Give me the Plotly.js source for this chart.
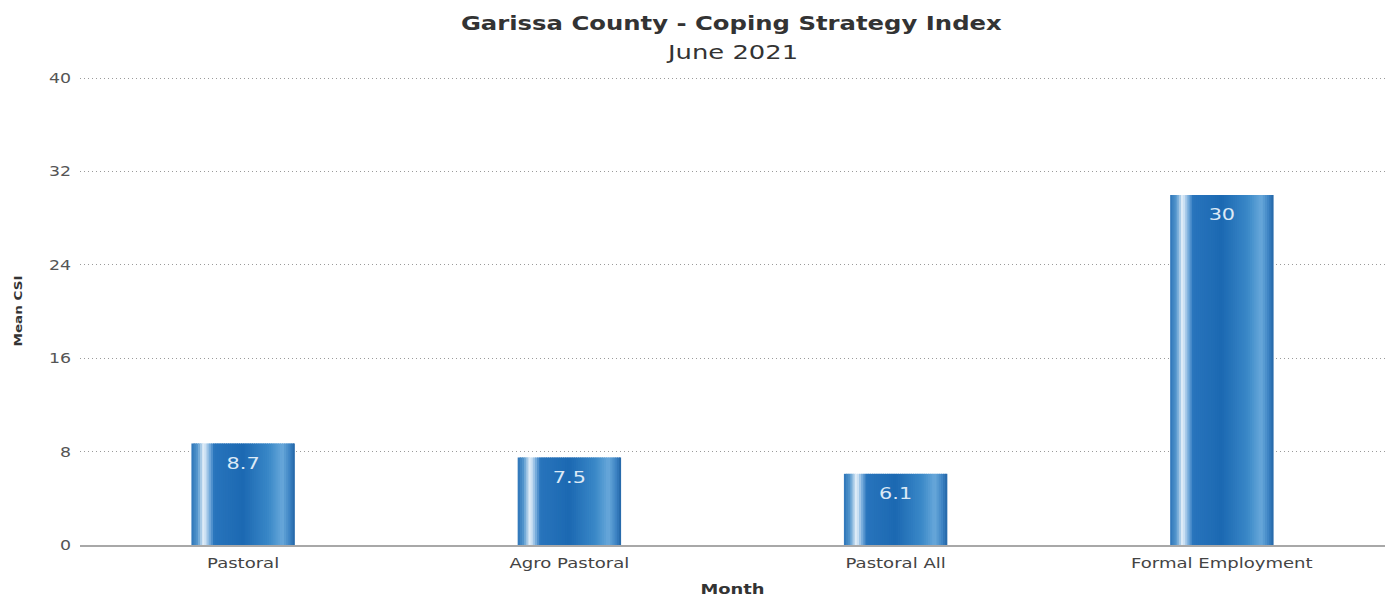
<!DOCTYPE html>
<html>
<head>
<meta charset="utf-8">
<script src="https://cdn.plot.ly/plotly-3.0.1.min.js"></script>
<style>
html,body{margin:0;padding:0;background:#fff;}
#chart{width:1393px;height:600px;}
</style>
</head>
<body>
<div id="chart"></div>
<script>
// ---- data ----
const categories = ["Pastoral", "Agro Pastoral", "Pastoral All", "Formal Employment"];
const meanCSI = [8.7, 7.5, 6.1, 30];
const valueLabels = ["8.7", "7.5", "6.1", "30"];
const yTicks = [0, 8, 16, 24, 32, 40];

// ---- styling (cylinder-like horizontal gradient via thin overlaid slices) ----
const BAR_W = 0.317;
const N = 48;
const stops = [
  [0.00, [44, 116, 184]],
  [0.06, [86, 152, 206]],
  [0.12, [234, 243, 251]],
  [0.17, [130, 180, 224]],
  [0.22, [40, 116, 188]],
  [0.50, [28, 105, 178]],
  [0.75, [58, 136, 200]],
  [0.88, [104, 168, 218]],
  [0.95, [62, 132, 196]],
  [1.00, [34, 100, 166]]
];
function colorAt(t) {
  for (let i = 0; i < stops.length - 1; i++) {
    const [t0, c0] = stops[i], [t1, c1] = stops[i + 1];
    if (t >= t0 && t <= t1) {
      const f = (t - t0) / (t1 - t0);
      const c = c0.map((v, k) => Math.round(v + (c1[k] - v) * f));
      return `rgb(${c[0]},${c[1]},${c[2]})`;
    }
  }
  const c = stops[stops.length - 1][1];
  return `rgb(${c[0]},${c[1]},${c[2]})`;
}

const traces = [];
const sw = BAR_W / N;
for (let i = 0; i < N; i++) {
  const t = (i + 0.5) / N;
  const w = (i === N - 1) ? sw : sw * 1.6;
  traces.push({
    type: "bar",
    x: categories,
    y: meanCSI,
    width: categories.map(() => w),
    offset: categories.map(() => -BAR_W / 2 + i * sw),
    marker: { color: colorAt(t), line: { width: 0 } },
    hoverinfo: "skip",
    showlegend: false
  });
}
// value labels just inside the top of each bar
traces.push({
  type: "scatter",
  mode: "markers+text",
  x: categories,
  y: meanCSI,
  text: valueLabels,
  textposition: "bottom center",
  textfont: { family: "DejaVu Sans, sans-serif", size: 16, color: "#dce9f6" },
  marker: { size: 20, color: "rgba(0,0,0,0)", line: { width: 0 } },
  cliponaxis: false,
  hoverinfo: "skip",
  showlegend: false
});

const FONT = "DejaVu Sans, sans-serif";
const layout = {
  width: 1393,
  height: 600,
  paper_bgcolor: "#ffffff",
  plot_bgcolor: "#ffffff",
  barmode: "overlay",
  margin: { l: 80, r: 8, t: 77, b: 55 },
  font: { family: FONT, color: "#444" },
  title: {
    text: "<b>Garissa County - Coping Strategy Index</b>",
    font: { family: FONT, size: 19, color: "#333" },
    x: 0.525, xanchor: "center", xref: "container",
    y: 1 - 23 / 600, yanchor: "middle", yref: "container"
  },
  annotations: [{
    text: "June 2021",
    xref: "paper", yref: "paper",
    x: 0.5, y: (545 - 52) / 468, xanchor: "center", yanchor: "middle",
    showarrow: false,
    font: { family: FONT, size: 19, color: "#333" }
  }],
  xaxis: {
    type: "category",
    tickfont: { family: FONT, size: 14, color: "#444" },
    showline: true, linecolor: "#a8a8a8", linewidth: 2,
    ticks: "", showgrid: false,
    ticklabelstandoff: 4,
    title: { text: "<b>Month</b>", font: { family: FONT, size: 14, color: "#333" }, standoff: 14 }
  },
  yaxis: {
    range: [0, 40.1],
    tickvals: yTicks,
    ticktext: yTicks.map(String),
    tickfont: { family: FONT, size: 14, color: "#555" },
    showgrid: true, gridcolor: "#9a9a9a", griddash: "1px,3px", gridwidth: 1,
    zeroline: false, showline: false, ticks: "",
    ticklabelstandoff: 8,
    title: { text: "<b>Mean CSI</b>", font: { family: FONT, size: 11, color: "#333" }, standoff: 28 }
  }
};

// widen glyphs along the text direction (the reference uses a wide typeface)
function stretch(selector, s) {
  document.querySelectorAll("#chart " + selector).forEach(t => {
    const b = t.getBBox();
    const anchor = t.getAttribute("text-anchor") || "start";
    let cx = b.x + b.width / 2;
    if (anchor === "end") cx = b.x + b.width;
    else if (anchor === "start") cx = b.x;
    const tr = t.getAttribute("transform") || "";
    t.setAttribute("transform", tr + ` translate(${cx},0) scale(${s},1) translate(${-cx},0)`);
  });
}

Plotly.newPlot("chart", traces, layout, { displayModeBar: false, staticPlot: true }).then(() => {
  stretch("text.gtitle", 1.28);
  stretch("text.annotation-text", 1.36);
  stretch(".xtick text", 1.29);
  stretch(".ytick text", 1.24);
  stretch("text.xtitle", 1.28);
  stretch("text.ytitle", 1.23);
  stretch(".textpoint text", 1.3);
});
</script>
</body>
</html>
